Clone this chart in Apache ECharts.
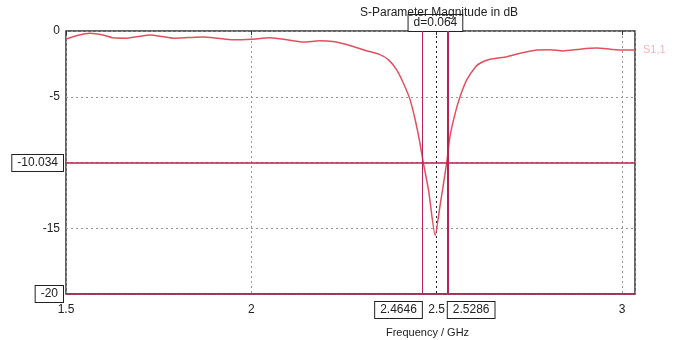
<!DOCTYPE html>
<html>
<head>
<meta charset="UTF-8">
<style>
  html, body {margin: 0; padding: 0; background: #fff;}
  #chart {width: 677px; height: 340px;}
</style>
</head>
<body>
<div id="chart"></div>
<script src="https://cdn.jsdelivr.net/npm/echarts@6/dist/echarts.min.js"></script>
<script>
// S11 (frequency in GHz, magnitude in dB)
const freq = [1.500, 1.530, 1.565, 1.600, 1.627, 1.664, 1.700, 1.727, 1.760, 1.790,
              1.830, 1.870, 1.910, 1.950, 2.000, 2.050, 2.100, 2.140, 2.185, 2.220,
              2.266, 2.311, 2.347, 2.370, 2.392, 2.410, 2.428, 2.442, 2.453, 2.464,
              2.478, 2.496, 2.509, 2.527, 2.536, 2.550, 2.563, 2.581, 2.604, 2.617,
              2.644, 2.689, 2.725, 2.770, 2.806, 2.841, 2.887, 2.932, 2.968, 3.000, 3.035];
const s11 = [-0.62, -0.35, -0.18, -0.30, -0.52, -0.55, -0.40, -0.30, -0.42, -0.55,
             -0.50, -0.45, -0.55, -0.66, -0.62, -0.52, -0.68, -0.84, -0.74, -0.80,
             -1.10, -1.50, -1.80, -2.20, -2.95, -3.95, -5.20, -6.75, -8.25, -10.03,
             -12.10, -15.55, -13.30, -10.03, -8.00, -6.25, -5.00, -3.72, -2.75, -2.45,
             -2.15, -1.95, -1.70, -1.45, -1.42, -1.52, -1.38, -1.30, -1.38, -1.45, -1.45];

// marker values
const levelMarker = -10.034;
const floorMarker = -20;
const f1 = 2.4646;
const f2 = 2.5286;
const deltaText = 'd=0.064';

const chart = echarts.init(document.getElementById('chart'));

const boxLabel = {
    color: '#222',
    fontSize: 12,
    fontFamily: 'Liberation Sans',
    backgroundColor: '#fff',
    borderColor: '#222',
    borderWidth: 1,
    padding: [2, 5]
};

chart.setOption({
    animation: false,
    title: {
        text: 'S-Parameter Magnitude in dB',
        left: 355,
        top: 2,
        z: 1,
        textStyle: {fontSize: 12, fontWeight: 'normal', color: '#222', fontFamily: 'Liberation Sans'}
    },
    grid: {
        left: 66, right: 42, top: 31, bottom: 46,
        outerBoundsMode: 'none',
        show: true, borderColor: '#333', borderWidth: 1.5
    },
    xAxis: {
        type: 'value',
        min: 1.5, max: 3.035, interval: 0.5,
        name: 'Frequency / GHz',
        nameLocation: 'middle',
        nameGap: 33,
        nameTextStyle: {fontSize: 11, color: '#222', fontFamily: 'Liberation Sans', padding: [0, 0, 0, 154]},
        axisLine: {show: false},
        axisTick: {show: true, length: 4, lineStyle: {color: '#333'}},
        axisLabel: {
            showMaxLabel: false,
            fontSize: 12, color: '#222', fontFamily: 'Liberation Sans', margin: 10
        },
        splitLine: {show: true, lineStyle: {type: [2, 3], color: ['#999', '#999', '#222', '#999', '#999']}}
    },
    yAxis: {
        type: 'value',
        min: -20, max: 0, interval: 5,
        axisLine: {show: false},
        axisTick: {show: false},
        axisLabel: {
            fontSize: 12, color: '#222', fontFamily: 'Liberation Sans', margin: 6,
            formatter: v => (v === -10 || v === -20) ? '' : String(v)
        },
        splitLine: {show: true, lineStyle: {type: [2, 3], color: '#999'}}
    },
    series: [{
        type: 'line',
        data: freq.map((f, i) => [f, s11[i]]),
        showSymbol: false,
        smooth: 0.2,
        z: 3,
        lineStyle: {color: '#e2505e', width: 1.5},
        itemStyle: {color: '#e2505e'},
        endLabel: {
            show: true, formatter: 'S1,1', color: '#f2b6be', fontSize: 11,
            fontFamily: 'Liberation Sans', distance: 8
        },
        markLine: {
            silent: true,
            symbol: 'none',
            animation: false,
            lineStyle: {color: '#b8234f', type: 'solid', width: 1.5},
            data: [
                {yAxis: levelMarker, label: Object.assign({show: true, position: 'start', distance: 3, formatter: String(levelMarker)}, boxLabel)},
                {yAxis: floorMarker, label: Object.assign({show: true, position: 'start', distance: 3, formatter: String(floorMarker)}, boxLabel)},
                {xAxis: f1, lineStyle: {width: 1}, label: Object.assign({show: true, position: 'start', distance: 8, align: 'right', formatter: String(f1)}, boxLabel)},
                {xAxis: f2, lineStyle: {width: 2}, label: Object.assign({show: true, position: 'start', distance: 8, align: 'left', formatter: String(f2)}, boxLabel)}
            ]
        },
        markArea: {
            silent: true,
            itemStyle: {color: 'rgba(0,0,0,0)'},
            label: Object.assign({show: true, position: 'top', distance: 0, formatter: deltaText}, boxLabel, {fontSize: 12}),
            data: [[{xAxis: f1, yAxis: 0}, {xAxis: f2, yAxis: -20}]]
        }
    }]
});
</script>
</body>
</html>
